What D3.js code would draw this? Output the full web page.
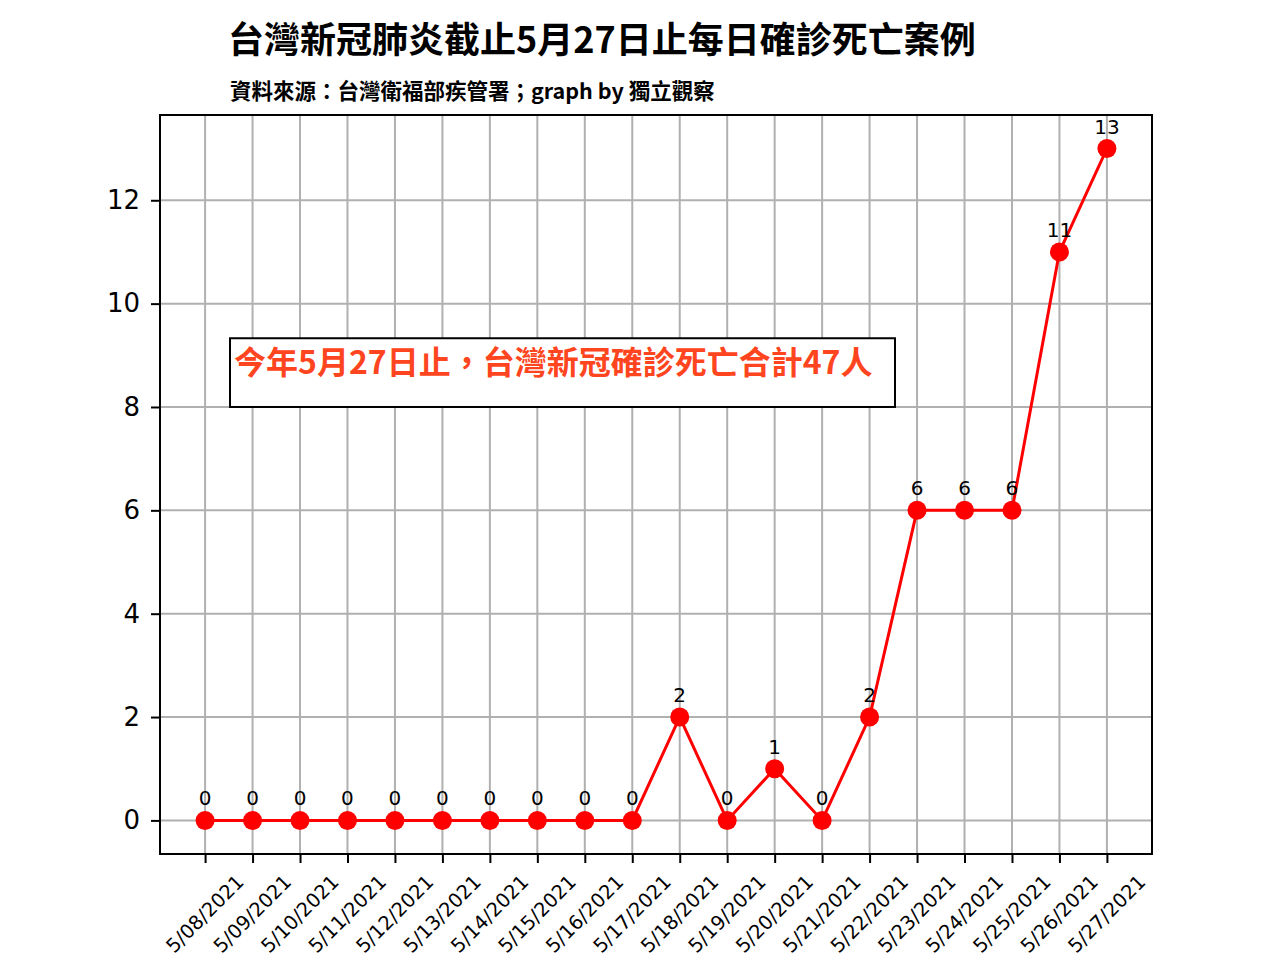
<!DOCTYPE html>
<html>
<head>
<meta charset="utf-8">
<script src="https://cdn.jsdelivr.net/npm/d3@7"></script>
<style>
  body { margin: 0; background: #fff; }
  svg { display: block; }
</style>
</head>
<body>
<div id="chart"></div>
<script>
// daily deaths, 5/08 - 5/27
const dates = ["5/08/2021", "5/09/2021", "5/10/2021", "5/11/2021", "5/12/2021",
  "5/13/2021", "5/14/2021", "5/15/2021", "5/16/2021", "5/17/2021",
  "5/18/2021", "5/19/2021", "5/20/2021", "5/21/2021", "5/22/2021",
  "5/23/2021", "5/24/2021", "5/25/2021", "5/26/2021", "5/27/2021"];
const deaths = [0, 0, 0, 0, 0, 0, 0, 0, 0, 0, 2, 0, 1, 0, 2, 6, 6, 6, 11, 13];
const yTicks = [0, 2, 4, 6, 8, 10, 12];

const title = "台灣新冠肺炎截止5月27日止每日確診死亡案例";
const subtitle = "資料來源：台灣衛福部疾管署；graph by 獨立觀察";
const note = "今年5月27日止，台灣新冠確診死亡合計47人";

const width = 1280, height = 960;
const plot = { left: 160, right: 1152, top: 115, bottom: 854 };
const cjk = "'Noto Sans CJK TC', 'Noto Sans CJK SC', sans-serif";
const latin = "'DejaVu Sans', sans-serif";

const svg = d3.select("#chart").append("svg")
  .attr("width", width)
  .attr("height", height);

const x = d3.scalePoint()
  .domain(dates)
  .range([plot.left, plot.right])
  .padding(0.95);

const y = d3.scaleLinear()
  .domain([-0.65, 13.65])
  .range([plot.bottom, plot.top]);

// grid
svg.append("g")
  .selectAll("line")
  .data(dates)
  .join("line")
  .attr("x1", d => x(d)).attr("x2", d => x(d))
  .attr("y1", plot.top).attr("y2", plot.bottom)
  .attr("stroke", "#b0b0b0")
  .attr("stroke-width", 2);

svg.append("g")
  .selectAll("line")
  .data(yTicks)
  .join("line")
  .attr("x1", plot.left).attr("x2", plot.right)
  .attr("y1", d => y(d)).attr("y2", d => y(d))
  .attr("stroke", "#b0b0b0")
  .attr("stroke-width", 2);

// axes
const yAxis = svg.append("g")
  .attr("transform", `translate(${plot.left},0)`)
  .call(d3.axisLeft(y).tickValues(yTicks).tickSize(9).tickPadding(11));
yAxis.select(".domain").remove();
yAxis.selectAll("line").attr("stroke", "#000").attr("stroke-width", 2);
yAxis.selectAll("text")
  .attr("font-family", latin)
  .attr("font-size", 26)
  .attr("fill", "#000");

const xAxis = svg.append("g")
  .attr("transform", `translate(0,${plot.bottom})`)
  .call(d3.axisBottom(x).tickSize(9).tickFormat(""));
xAxis.select(".domain").remove();
xAxis.selectAll("line").attr("stroke", "#000").attr("stroke-width", 2);

svg.append("g")
  .selectAll("text")
  .data(dates)
  .join("text")
  .attr("transform", d => `translate(${x(d)},${plot.bottom + 60}) rotate(-45)`)
  .attr("text-anchor", "middle")
  .attr("dominant-baseline", "central")
  .attr("font-family", latin)
  .attr("font-size", 19.5)
  .text(d => d);

// frame
svg.append("rect")
  .attr("x", plot.left).attr("y", plot.top)
  .attr("width", plot.right - plot.left)
  .attr("height", plot.bottom - plot.top)
  .attr("fill", "none")
  .attr("stroke", "#000")
  .attr("stroke-width", 2);

// note box
svg.append("rect")
  .attr("x", 230).attr("y", y(9.33))
  .attr("width", 665)
  .attr("height", y(8) - y(9.33))
  .attr("fill", "#fff")
  .attr("stroke", "#000")
  .attr("stroke-width", 2);

svg.append("text")
  .attr("x", 234).attr("y", y(8) - 33)
  .attr("font-family", cjk)
  .attr("font-weight", "bold")
  .attr("font-size", 32)
  .attr("fill", "#ff4520")
  .text(note);

// line + markers
const line = d3.line()
  .x((d, i) => x(dates[i]))
  .y(d => y(d));

svg.append("path")
  .datum(deaths)
  .attr("d", line)
  .attr("fill", "none")
  .attr("stroke", "#ff0000")
  .attr("stroke-width", 3);

svg.append("g")
  .selectAll("circle")
  .data(deaths)
  .join("circle")
  .attr("cx", (d, i) => x(dates[i]))
  .attr("cy", d => y(d))
  .attr("r", 9.5)
  .attr("fill", "#ff0000");

svg.append("g")
  .selectAll("text")
  .data(deaths)
  .join("text")
  .attr("x", (d, i) => x(dates[i]))
  .attr("y", d => y(d) - 15)
  .attr("text-anchor", "middle")
  .attr("font-family", latin)
  .attr("font-size", 20)
  .text(d => d);

// titles
svg.append("text")
  .attr("x", 228).attr("y", 53)
  .attr("font-family", cjk)
  .attr("font-weight", "bold")
  .attr("font-size", 36)
  .text(title);

svg.append("text")
  .attr("x", 230).attr("y", 99)
  .attr("font-family", cjk)
  .attr("font-weight", "bold")
  .attr("font-size", 21.5)
  .text(subtitle);
</script>
</body>
</html>
